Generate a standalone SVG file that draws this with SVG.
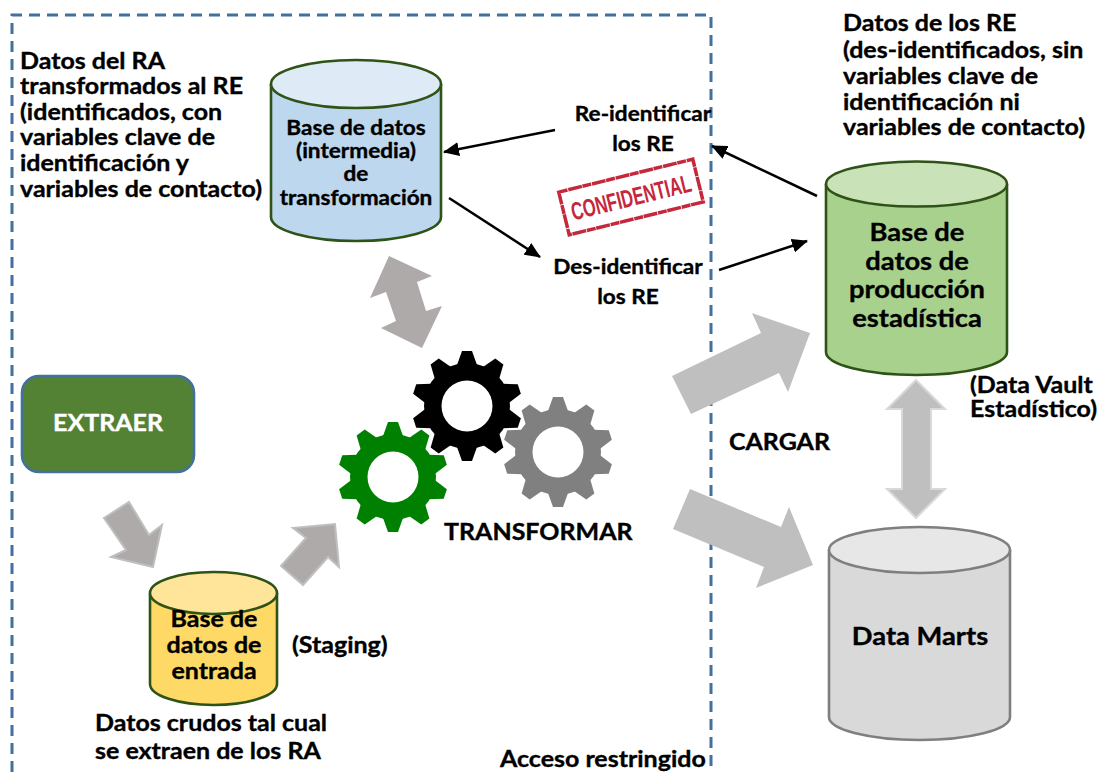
<svg xmlns="http://www.w3.org/2000/svg" xmlns:xlink="http://www.w3.org/1999/xlink" width="1102" height="776" viewBox="0 0 1102 776">
<style>
text{font-family:"Lato","Liberation Sans",sans-serif;font-weight:700;fill:#000;stroke:#000;stroke-width:.35}
.t25{font-size:22px}
.t22{font-size:20px}
.t27{font-size:24px}
.m{text-anchor:middle}
.ba{fill:#aeaaaa;stroke:#bfbfbf;stroke-width:2}
.bc{fill:#aeaaaa}
.bb{fill:#bfbfbf}
.bd{fill:#bfbfbf;stroke:#d9d9d9;stroke-width:2}
.ln{stroke:#000;stroke-width:2.500;fill:none;marker-end:url(#ah)}
.gr{stroke:#2f5216;stroke-width:2.600}
.gy{stroke:#7f7f7f;stroke-width:2.600}
</style>
<defs>
<marker id="ah" markerUnits="userSpaceOnUse" markerWidth="16" markerHeight="14" refX="15" refY="7" orient="auto"><path d="M0 0L16 7L0 14z" fill="#000"/></marker>
<g id="gear">
<circle r="43"/>
<g id="teeth"><path id="th" d="M-10-41L-5-55H5L10-41z"/><use xlink:href="#th" transform="rotate(36)"/><use xlink:href="#th" transform="rotate(72)"/><use xlink:href="#th" transform="rotate(108)"/><use xlink:href="#th" transform="rotate(144)"/><use xlink:href="#th" transform="rotate(180)"/><use xlink:href="#th" transform="rotate(216)"/><use xlink:href="#th" transform="rotate(252)"/><use xlink:href="#th" transform="rotate(288)"/><use xlink:href="#th" transform="rotate(324)"/></g>
<circle r="25.500" fill="#fff"/>
</g>
</defs>
<rect width="1102" height="776" fill="#fff"/>
<path d="M12 772V15H711V772" fill="none" stroke="#41719c" stroke-width="3" stroke-dasharray="11 7"/>
<g id="connectors">
<polygon class="ba" points="129,502 149,535 162,525 153,567 111,557 126,550 104,518"/>
<polygon class="ba" points="281,566 306,538 293,528 335,524 339,567 328,557 303,585"/>
<polygon class="bc" points="389,256 432,276 417,282 426,311 442,306 422,348 381,328 396,321 386,292 370,298"/>
<polygon class="bb" points="672,376 761,333 752,313 810,333 788,392 779,373 691,414"/>
<polygon class="bb" points="690,489 781,527 789,507 813,565 756,588 764,567 673,529"/>
<polygon class="bd" points="916,380 945,409 931,409 931,489 945,489 916,518 887,489 902,489 902,409 887,409"/>
<path class="ln" d="M555 130L444 152"/>
<path class="ln" d="M449 198L540 257"/>
<path class="ln" d="M719 270L807 241"/>
<path class="ln" d="M817 196L712 146"/>
</g>
<g id="extraer"><rect x="22" y="376" width="172" height="96" rx="17" fill="#548235" stroke="#41719c" stroke-width="2.600"/><g transform="translate(108 0) scale(1.136 1)"><text class="m t25" x="0" y="431" style="fill:#fff;stroke:#fff">EXTRAER</text></g></g>
<g id="db-entrada"><path class="gr" d="M150 593V684A63.500 21 0 0 0 277 684V593" fill="#ffd966"/><ellipse class="gr" cx="213.500" cy="593" rx="63.500" ry="21" fill="#ffe599"/><g transform="translate(214 0) scale(1.136 1)"><text class="m t25" x="0" y="627">Base de</text><text class="m t25" x="0" y="653">datos de</text><text class="m t25" x="0" y="679">entrada</text></g></g>
<g id="db-intermedia"><path class="gr" d="M271 84V217A85 24 0 0 0 441 217V84" fill="#bdd7ee"/><ellipse class="gr" cx="356" cy="84" rx="85" ry="24" fill="#deebf7"/><g transform="translate(356 0) scale(1.13 1)"><text class="m t22" x="0" y="135">Base de datos</text><text class="m t22" x="0" y="158">(intermedia)</text><text class="m t22" x="0" y="181">de</text><text class="m t22" x="0" y="205">transformación</text></g></g>
<g id="db-produccion"><path class="gr" d="M826 184V352A90.500 23 0 0 0 1007 352V184" fill="#a9d18e"/><ellipse class="gr" cx="916.500" cy="184" rx="90.500" ry="22.500" fill="#c9e2b8"/><g transform="translate(917 0) scale(1.1375 1)"><text class="m t27" x="0" y="241">Base de</text><text class="m t27" x="0" y="270">datos de</text><text class="m t27" x="0" y="298">producción</text><text class="m t27" x="0" y="327">estadística</text></g></g>
<g id="db-marts"><path class="gy" d="M829 550V717A90.500 23 0 0 0 1010 717V550" fill="#d9d9d9"/><ellipse class="gy" cx="919.500" cy="550" rx="90.500" ry="23" fill="#e7e7e7"/><g transform="translate(920 0) scale(1.1375 1)"><text class="m t27" x="0" y="645">Data Marts</text></g></g>
<g id="gears"><use xlink:href="#gear" transform="translate(467,406)" fill="#000"/><use xlink:href="#gear" transform="translate(558,452)" fill="#808080"/><use xlink:href="#gear" transform="translate(393,477)" fill="#008000"/></g>
<g id="stamp"><g transform="translate(631,197) rotate(-13.800)"><rect x="-69" y="-22" width="138" height="44" fill="none" stroke="#c4283c" stroke-width="3.500" stroke-dasharray="9 .8 14 .6"/><text class="m" x="0" y="9" textLength="123" lengthAdjust="spacingAndGlyphs" style="font-family:'Liberation Sans',sans-serif;font-size:25px;fill:#c4283c;stroke:none">CONFIDENTIAL</text></g></g>
<g id="labels">
<g transform="translate(20 0) scale(1.136 1)"><text class="t25" x="0" y="69">Datos del RA</text><text class="t25" x="0" y="94">transformados al RE</text><text class="t25" x="0" y="120">(identificados, con</text><text class="t25" x="0" y="145">variables clave de</text><text class="t25" x="0" y="171">identificación y</text><text class="t25" x="0" y="197">variables de contacto)</text></g>
<g transform="translate(843 0) scale(1.136 1)"><text class="t25" x="0" y="31">Datos de los RE</text><text class="t25" x="0" y="58">(des-identificados, sin</text><text class="t25" x="0" y="84">variables clave de</text><text class="t25" x="0" y="110">identificación ni</text><text class="t25" x="0" y="135">variables de contacto)</text></g>
<g transform="translate(643 0) scale(1.13 1)"><text class="m t22" x="0" y="121">Re-identificar</text><text class="m t22" x="0" y="151">los RE</text></g>
<g transform="translate(628 0) scale(1.13 1)"><text class="m t22" x="0" y="274">Des-identificar</text><text class="m t22" x="0" y="304">los RE</text></g>
<g transform="translate(292 0) scale(1.136 1)"><text class="t25" x="0" y="653">(Staging)</text></g>
<g transform="translate(95 0) scale(1.136 1)"><text class="t25" x="0" y="731">Datos crudos tal cual</text><text class="t25" x="0" y="759">se extraen de los RA</text></g>
<g transform="translate(500 0) scale(1.136 1)"><text class="t25" x="0" y="767">Acceso restringido</text></g>
<g transform="translate(970 0) scale(1.136 1)"><text class="t25" x="0" y="393">(Data Vault</text><text class="t25" x="0" y="417">Estadístico)</text></g>
<g transform="translate(729 0) scale(1.136 1)"><text class="t25" x="0" y="450">CARGAR</text></g>
<g transform="translate(444 0) scale(1.136 1)"><text class="t25" x="0" y="540">TRANSFORMAR</text></g>
</g>
</svg>
